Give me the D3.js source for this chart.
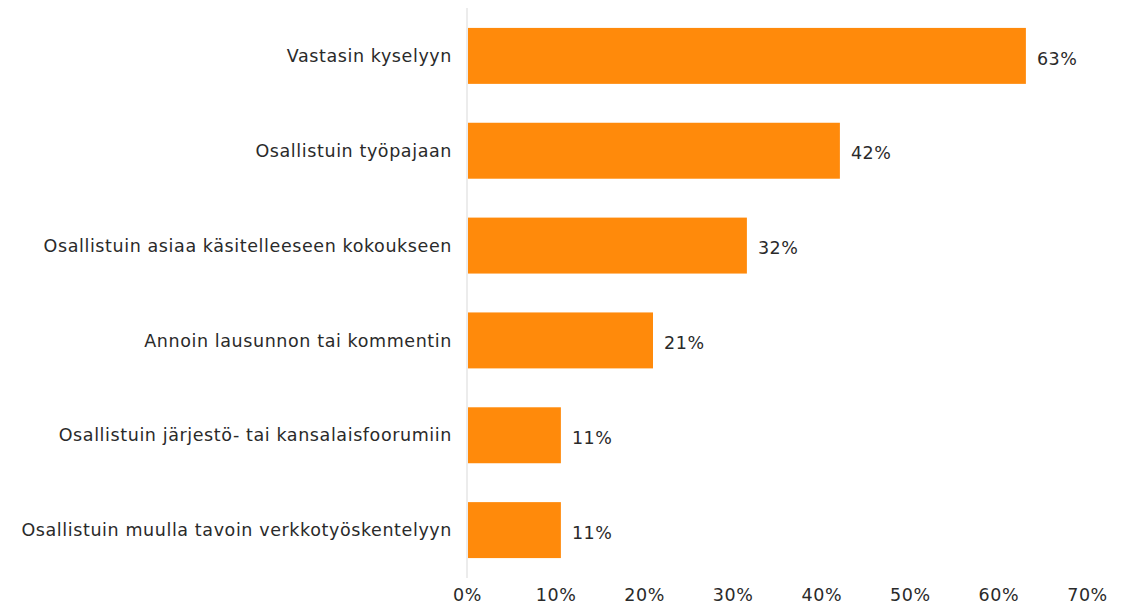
<!DOCTYPE html>
<html>
<head>
<meta charset="utf-8">
<script src="https://cdn.jsdelivr.net/npm/d3@7"></script>
<style>
  body { margin: 0; background: #fff; }
  text { font-family: "DejaVu Sans", sans-serif; fill: #2a2a2a; }
</style>
</head>
<body>
<div class="chart"></div>
<script>
var categories = [
  'Vastasin kyselyyn',
  'Osallistuin työpajaan',
  'Osallistuin asiaa käsitelleeseen kokoukseen',
  'Annoin lausunnon tai kommentin',
  'Osallistuin järjestö- tai kansalaisfoorumiin',
  'Osallistuin muulla tavoin verkkotyöskentelyyn'
];
var values = [0.631, 0.421, 0.316, 0.210, 0.106, 0.106];
var valueLabels = ['63%', '42%', '32%', '21%', '11%', '11%'];
var ticks = [0, 0.1, 0.2, 0.3, 0.4, 0.5, 0.6, 0.7];

var width = 1131, height = 606;
var margin = {top: 8, right: 44, bottom: 28, left: 467};
var fontSize = '17.5px', spacing = '0.6px';

var svg = d3.select('.chart').append('svg')
  .attr('width', width)
  .attr('height', height);

var x = d3.scaleLinear().domain([0, 0.7]).range([margin.left, width - margin.right]);
var y = d3.scaleBand().domain(categories)
  .range([margin.top, height - margin.bottom])
  .paddingInner(0.41).paddingOuter(0.21);

// bars
svg.selectAll('.bar')
  .data(values)
  .enter().append('rect')
  .attr('class', 'bar')
  .attr('x', x(0) + 1)
  .attr('y', function(d, i) { return y(categories[i]); })
  .attr('width', function(d) { return x(d) - x(0) - 1; })
  .attr('height', y.bandwidth())
  .attr('fill', '#FF8A0B');

// vertical axis line
svg.append('line')
  .attr('x1', x(0)).attr('x2', x(0))
  .attr('y1', margin.top).attr('y2', height - margin.bottom)
  .style('stroke', '#d9d9d9')
  .style('stroke-width', 1);

// category labels
svg.selectAll('.cat')
  .data(categories)
  .enter().append('text')
  .attr('class', 'cat')
  .attr('x', x(0) - 15)
  .attr('y', function(d) { return y(d) + y.bandwidth() / 2; })
  .attr('dy', '0.35em')
  .attr('text-anchor', 'end')
  .style('font-size', fontSize)
  .style('letter-spacing', spacing)
  .text(function(d) { return d; });

// value labels
svg.selectAll('.val')
  .data(values)
  .enter().append('text')
  .attr('class', 'val')
  .attr('x', function(d) { return x(d) + 11; })
  .attr('y', function(d, i) { return y(categories[i]) + y.bandwidth() / 2; })
  .attr('dy', '0.5em')
  .style('font-size', fontSize)
  .style('letter-spacing', spacing)
  .text(function(d, i) { return valueLabels[i]; });

// x tick labels
var xAxis = svg.append('g')
  .attr('class', 'axis axis--x')
  .attr('transform', 'translate(0,' + (height - margin.bottom) + ')')
  .call(d3.axisBottom(x).tickValues(ticks).tickFormat(d3.format('.0%')).tickSize(0).tickPadding(11));
xAxis.select('.domain').remove();
xAxis.selectAll('text')
  .style('font-family', '"DejaVu Sans", sans-serif')
  .style('font-size', fontSize)
  .style('letter-spacing', spacing)
  .style('fill', '#2a2a2a');
</script>
</body>
</html>
